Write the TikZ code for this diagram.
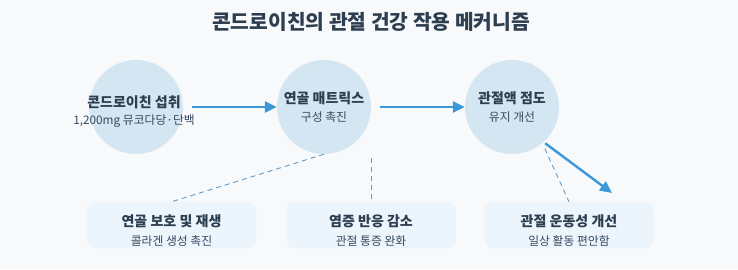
\documentclass[tikz,border=0pt]{standalone}
\usepackage{fontspec}
\setmainfont{Noto Sans CJK KR}
\definecolor{pagebg}{HTML}{F8F9FB}
\definecolor{bubblefill}{HTML}{D5E6F3}
\definecolor{boxfill}{HTML}{ECF4FC}
\definecolor{flowblue}{HTML}{3A97D8}
\definecolor{linkblue}{HTML}{5E9CCB}
\definecolor{headink}{HTML}{2C3E50}
\definecolor{subink}{HTML}{34495E}
\usetikzlibrary{arrows.meta,positioning}

\tikzset{
  bubble/.style={circle, fill=bubblefill, minimum size=94pt, inner sep=0pt},
  infobox/.style={rectangle, rounded corners=8pt, fill=boxfill, minimum width=169pt, minimum height=46pt, inner sep=0pt},
  headtxt/.style={text=headink, font=\fontsize{14}{16}\selectfont\bfseries, inner sep=0pt},
  subtxt/.style={text=subink, font=\fontsize{11.8}{13}\selectfont, inner sep=0pt},
  flow/.style={draw=flowblue, line width=2.4pt, -{Triangle[length=12pt,width=11pt]}},
  link/.style={draw=linkblue, line width=0.9pt, dash pattern=on 5pt off 4pt}
}

\begin{document}
\begin{tikzpicture}[x=1pt, y=-1pt]
  \fill[pagebg] (0,0) rectangle (738,269);
  \useasboundingbox (0,0) rectangle (738,269);

  % title
  \node[text=headink, font=\fontsize{20.3}{23}\selectfont\bfseries, inner sep=0pt] (title) at (371,22) {콘드로이친의 관절 건강 작용 메커니즘};

  % main steps
  \node[bubble] (circ1) at (136,107) {};
  \node[bubble] (circ2) at (324,107) {};
  \node[bubble] (circ3) at (512,107) {};

  \node[headtxt] (head1) at (134,102) {콘드로이친 섭취};
  \node[subtxt] (sub1) at (134,121) {1,200mg 뮤코다당·단백};
  \node[headtxt] (head2) at (324,98) {연골 매트릭스};
  \node[subtxt] (sub2) at (324,117) {구성 촉진};
  \node[headtxt] (head3) at (512,98) {관절액 점도};
  \node[subtxt] (sub3) at (512,117) {유지 개선};

  % effects
  \node[infobox] (box1) at (171.5,225) {};
  \node[infobox] (box2) at (371,225) {};
  \node[infobox] (box3) at (569,225) {};

  \node[headtxt] (boxhead1) at (171.5,221) {연골 보호 및 재생};
  \node[subtxt] (boxsub1) at (171.5,241) {콜라겐 생성 촉진};
  \node[headtxt] (boxhead2) at (371,221) {염증 반응 감소};
  \node[subtxt] (boxsub2) at (371,241) {관절 통증 완화};
  \node[headtxt] (boxhead3) at (569,221) {관절 운동성 개선};
  \node[subtxt] (boxsub3) at (569,241) {일상 활동 편안함};

  % arrows
  \draw[flow, shorten <=9pt] (circ1) -- (circ2);
  \draw[flow, shorten <=9pt] (circ2) -- (circ3);
  \coordinate (flowend) at (612,193);
  \draw[flow, shorten <=2pt] (circ3.-48) -- (flowend);

  % dashed links
  \coordinate (linktop) at (371,158);
  \draw[link] (circ2.south) -- (box1.north);
  \draw[link] (linktop) -- (box2.north);
  \draw[link, shorten <=6pt] (circ3.-50) -- (box3.north);
\end{tikzpicture}
\end{document}
